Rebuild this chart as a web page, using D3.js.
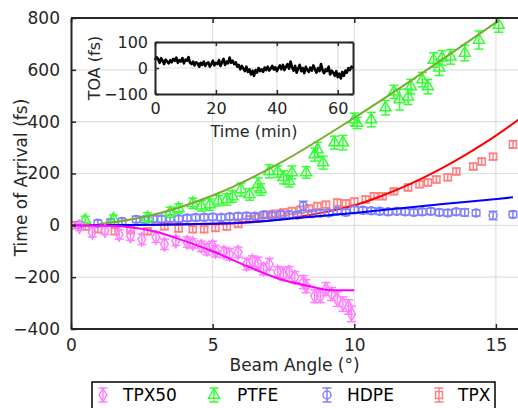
<!DOCTYPE html>
<html lang="en">
<head>
<meta charset="UTF-8">
<title>Time of Arrival vs Beam Angle</title>
<script src="https://d3js.org/d3.v7.min.js"></script>
<style>
    body { margin: 0; padding: 0; background: #fff; overflow: hidden; }
    svg { font-family: "DejaVu Sans", Verdana, sans-serif; }
</style>
</head>
<body>
<div id="chart"></div>
<script>
    // measured points: [beam angle (deg), time of arrival (fs), error (fs)]
    const tpx50 = [
        [0.3, -5, 15], [0.75, -27, 18], [1.2, -20, 15], [1.7, -35, 18], [2.1, -40, 18],
        [2.5, -54, 20], [3.0, -46, 20], [3.3, -73, 20], [3.7, -60, 18], [4.1, -65, 20],
        [4.3, -70, 18], [4.6, -81, 20], [4.8, -92, 22], [5.0, -81, 20], [5.1, -100, 22],
        [5.4, -104, 20], [5.6, -112, 22], [5.9, -104, 20], [6.2, -150, 22], [6.4, -138, 20],
        [6.6, -145, 22], [6.8, -169, 22], [7.0, -150, 22], [7.3, -181, 22], [7.5, -188, 25],
        [7.7, -181, 22], [7.9, -200, 22], [8.2, -219, 25], [8.3, -235, 25], [8.6, -273, 25],
        [8.8, -273, 25], [9.0, -246, 25], [9.2, -265, 25], [9.4, -285, 28], [9.6, -304, 28],
        [9.8, -315, 28], [9.9, -342, 30]
    ];
    const ptfe = [
        [0.5, 20, 15], [1.5, 25, 15], [2.7, 30, 18], [3.5, 50, 20], [3.8, 65, 18],
        [4.3, 85, 20], [4.6, 75, 20], [4.9, 80, 22], [5.2, 95, 20], [5.5, 100, 22],
        [5.7, 111, 22], [6.0, 138, 25], [6.3, 119, 22], [6.6, 158, 25], [6.7, 138, 22],
        [7.0, 208, 25], [7.3, 208, 22], [7.5, 185, 25], [7.7, 170, 22], [7.8, 204, 25],
        [8.3, 204, 22], [8.6, 273, 25], [8.7, 292, 28], [8.9, 242, 25], [9.3, 319, 25],
        [9.6, 319, 28], [10.0, 408, 25], [10.1, 395, 22], [10.6, 408, 28], [11.1, 454, 28],
        [11.4, 515, 25], [11.6, 485, 40], [11.9, 496, 30], [12.0, 535, 28], [12.4, 562, 28],
        [12.6, 535, 28], [12.8, 638, 28], [13.0, 608, 30], [13.1, 646, 28], [13.4, 650, 28],
        [13.9, 665, 30], [14.4, 715, 35], [15.1, 773, 28]
    ];
    const hdpe = [
        [0.3, 2, 12], [0.95, 8, 12], [1.4, 12, 12], [1.8, 15, 12], [2.3, 23, 12],
        [2.6, 22, 12], [2.9, 25, 12], [3.2, 24, 12], [3.5, 26, 12], [3.8, 25, 12],
        [4.1, 28, 12], [4.4, 30, 12], [4.7, 31, 12], [5.0, 32, 12], [5.3, 30, 12],
        [5.6, 33, 12], [5.9, 35, 12], [6.2, 36, 12], [6.5, 35, 12], [6.8, 40, 12],
        [7.1, 38, 12], [7.4, 42, 12], [7.7, 41, 12], [8.0, 40, 12], [8.2, 75, 18],
        [8.5, 45, 12], [8.8, 47, 12], [9.1, 48, 12], [9.4, 55, 12], [9.7, 50, 12],
        [10.0, 60, 12], [10.3, 58, 12], [10.6, 56, 12], [10.9, 54, 12], [11.2, 52, 12],
        [11.5, 54, 12], [11.8, 52, 12], [12.1, 50, 12], [12.4, 52, 12], [12.7, 54, 12],
        [13.0, 50, 12], [13.3, 48, 12], [13.6, 52, 12], [13.9, 50, 14], [14.3, 48, 12],
        [14.9, 38, 16], [15.6, 42, 12]
    ];
    const tpx = [
        [0.0, 0, 12], [0.5, -5, 12], [0.95, -15, 12], [1.55, -23, 12], [2.1, -18, 12],
        [2.7, -23, 12], [3.3, -4, 12], [3.8, -12, 12], [4.3, -15, 12], [4.7, -15, 12],
        [5.1, -10, 12], [5.5, -5, 12], [5.9, 5, 12], [6.3, 23, 12], [6.6, 30, 12],
        [6.9, 42, 12], [7.2, 45, 12], [7.5, 50, 12], [7.8, 55, 12], [8.1, 60, 12],
        [8.4, 65, 12], [8.7, 75, 12], [9.0, 80, 12], [9.4, 88, 12], [9.7, 85, 12],
        [10.0, 92, 12], [10.4, 100, 12], [10.7, 112, 12], [11.0, 112, 12], [11.4, 131, 12],
        [11.9, 146, 12], [12.3, 158, 12], [12.6, 165, 12], [12.9, 177, 12], [13.3, 185, 12],
        [13.6, 208, 12], [14.2, 227, 12], [14.5, 246, 12], [14.9, 265, 12], [15.6, 312, 15]
    ];

    // fitted curves: [angle, fs]
    const tpx50Fit = [[0, 0], [1, -1], [2, -6], [3, -25], [3.85, -54], [5, -100], [6.2, -157],
        [7.4, -208], [8.55, -238], [9.15, -250], [10, -250]];
    const ptfeFit = [[1.0, 5], [2.5, 30], [5, 115], [7.5, 248], [10, 415], [12.5, 595], [15.1, 790]];
    const hdpeFit = [[0, 0], [2, 1], [4, 4], [6, 10], [8, 28], [10, 48], [12, 70], [14, 91], [15.6, 108]];
    const tpxFit = [[0, 0], [2, 1], [4, 4], [6, 10], [8, 32], [9, 52], [10, 77], [11, 115], [12, 161],
        [13, 215], [14, 277], [15, 346], [15.9, 416]];

    // inset: TOA drift over time, every 0.5 min
    const toaStep = 0.5;
    const toa = [
        30, 42, 35, 20, 38, 28, 15, 32, 25, 18, 30,
        22, 35, 28, 40, 20, 30, 25, 38, 18, 32,
        28, 42, 20, 15, 25, 10, 22, 18, 5, 20,
        12, 25, 8, 18, 22, 5, 15, 28, 10, 20,
        15, 30, 8, 22, 35, 12, 25, 18, 40, 20,
        28, 15, 22, 5, 12, -5, 8, -2, -12, 5,
        -15, -5, -25, -10, -30, -8, -18, 0, -12, -5,
        -15, 2, -8, 5, -10, -2, 8, -6, 3, -12,
        0, 10, -5, 12, -8, 5, 15, -3, 25, 2,
        -10, 8, -18, -2, 12, -12, 0, -20, 5, -8,
        -15, 2, -10, 10, -5, -18, 0, -12, 15, -8,
        -20, -5, -12, 5, -25, -10, -18, -30, -12, -35,
        -22, -40, -15, -30, -10, -18, 0, -8, 5, 0
    ];

    const xTicks = [0, 5, 10, 15];
    const yTicks = [-400, -200, 0, 200, 400, 600, 800];
    const insetXTicks = [0, 20, 40, 60];
    const insetYTicks = [-100, 0, 100];

    const seriesList = [
        { name: "TPX", data: tpx, fit: tpxFit, color: "#ff8080", fitColor: "#ff0000", symbol: d3.symbolSquare, size: 48 },
        { name: "HDPE", data: hdpe, fit: hdpeFit, color: "#8080ff", fitColor: "#0000ff", symbol: d3.symbolCircle, size: 50 },
        { name: "PTFE", data: ptfe, fit: ptfeFit, color: "#33ff33", fitColor: "#77ac30", symbol: d3.symbolTriangle, size: 52 },
        { name: "TPX50", data: tpx50, fit: tpx50Fit, color: "#ff80ff", fitColor: "#ff00ff", symbol: d3.symbolDiamond, size: 52 }
    ];
    const legendOrder = ["TPX50", "PTFE", "HDPE", "TPX"];

    const W = 518, H = 408;
    const axisColor = "#262626";
    const gridColor = "#dfdfdf";

    const svg = d3.select("#chart").append("svg")
        .attr("width", W)
        .attr("height", H);

    const x = d3.scaleLinear().domain([0, 15.85]).range([71, 520]);
    const y = d3.scaleLinear().domain([-400, 800]).range([329, 18]);

    // grid
    svg.append("g").selectAll("line")
        .data(xTicks.filter(t => t > 0))
        .join("line")
        .attr("x1", d => x(d)).attr("x2", d => x(d))
        .attr("y1", y(-400)).attr("y2", y(800))
        .attr("stroke", gridColor).attr("stroke-width", 1.2);
    svg.append("g").selectAll("line")
        .data(yTicks)
        .join("line")
        .attr("x1", x(0)).attr("x2", W)
        .attr("y1", d => y(d)).attr("y2", d => y(d))
        .attr("stroke", gridColor).attr("stroke-width", 1.2);

    svg.append("clipPath").attr("id", "plotClip")
        .append("rect")
        .attr("x", x(0)).attr("y", y(800))
        .attr("width", W - x(0)).attr("height", y(-400) - y(800));

    const plot = svg.append("g").attr("clip-path", "url(#plotClip)");

    const fitLine = d3.line()
        .x(d => x(d[0]))
        .y(d => y(d[1]))
        .curve(d3.curveMonotoneX);

    function drawMarker(g, s, cx, cy, lo, hi) {
        g.append("line")
            .attr("x1", cx).attr("x2", cx)
            .attr("y1", lo).attr("y2", hi)
            .attr("stroke", s.color).attr("stroke-width", 1.5);
        [lo, hi].forEach(v => {
            g.append("line")
                .attr("x1", cx - 4.5).attr("x2", cx + 4.5)
                .attr("y1", v).attr("y2", v)
                .attr("stroke", s.color).attr("stroke-width", 1.5);
        });
        g.append("path")
            .attr("d", d3.symbol().type(s.symbol).size(s.size)())
            .attr("transform", `translate(${cx},${cy})`)
            .attr("fill", "none")
            .attr("stroke", s.color)
            .attr("stroke-width", 1.5);
    }

    seriesList.forEach(s => {
        const g = plot.append("g");
        s.data.forEach(d => {
            drawMarker(g, s, x(d[0]), y(d[1]), y(d[1] - d[2]), y(d[1] + d[2]));
        });
        plot.append("path")
            .datum(s.fit)
            .attr("d", fitLine)
            .attr("fill", "none")
            .attr("stroke", s.fitColor)
            .attr("stroke-width", 2);
    });

    // axes (ticks inside, MATLAB style)
    const xAxis = svg.append("g")
        .attr("transform", `translate(0,${y(-400)})`)
        .call(d3.axisBottom(x).tickValues(xTicks).tickSizeInner(-5).tickSizeOuter(0).tickPadding(10));
    const xAxisTop = svg.append("g")
        .attr("transform", `translate(0,${y(800)})`)
        .call(d3.axisTop(x).tickValues(xTicks).tickSizeInner(-5).tickSizeOuter(0).tickFormat(""));
    const yAxis = svg.append("g")
        .attr("transform", `translate(${x(0)},0)`)
        .call(d3.axisLeft(y).tickValues(yTicks).tickSizeInner(-5).tickSizeOuter(0).tickPadding(11));

    [xAxis, xAxisTop, yAxis].forEach(a => {
        a.select(".domain").attr("stroke", axisColor).attr("stroke-width", 2);
        a.selectAll(".tick line").attr("stroke", axisColor).attr("stroke-width", 1.5);
        a.selectAll(".tick text")
            .attr("fill", axisColor)
            .style("font-size", "17px")
            .style("font-family", "DejaVu Sans, sans-serif");
    });
    // stretch axis lines to the window edge
    xAxis.select(".domain").attr("d", `M${x(0)},0H${W}`);
    xAxisTop.select(".domain").attr("d", `M${x(0)},0H${W}`);

    svg.append("text")
        .attr("x", (x(0) + W) / 2)
        .attr("y", 371)
        .attr("text-anchor", "middle")
        .attr("fill", axisColor)
        .style("font-size", "17px")
        .text("Beam Angle (°)");

    svg.append("text")
        .attr("transform", `translate(27,${(y(800) + y(-400)) / 2 + 4}) rotate(-90)`)
        .attr("text-anchor", "middle")
        .attr("fill", axisColor)
        .style("font-size", "17px")
        .text("Time of Arrival (fs)");

    // inset
    const ix = d3.scaleLinear().domain([0, 65]).range([155, 353]);
    const iy = d3.scaleLinear().domain([-100, 100]).range([94, 42]);
    const inset = svg.append("g");

    inset.append("rect")
        .attr("x", ix(0)).attr("y", iy(100))
        .attr("width", ix(65) - ix(0)).attr("height", iy(-100) - iy(100))
        .attr("fill", "#fff");
    inset.append("g").selectAll("line")
        .data(insetXTicks.filter(t => t > 0))
        .join("line")
        .attr("x1", d => ix(d)).attr("x2", d => ix(d))
        .attr("y1", iy(-100)).attr("y2", iy(100))
        .attr("stroke", gridColor).attr("stroke-width", 1.2);
    inset.append("line")
        .attr("x1", ix(0)).attr("x2", ix(65))
        .attr("y1", iy(0)).attr("y2", iy(0))
        .attr("stroke", gridColor).attr("stroke-width", 1.2);

    inset.append("path")
        .datum(toa)
        .attr("d", d3.line().x((d, i) => ix(i * toaStep)).y(d => iy(d)))
        .attr("fill", "none")
        .attr("stroke", "#000")
        .attr("stroke-width", 2.6)
        .attr("stroke-linejoin", "round");

    const ixAxis = inset.append("g")
        .attr("transform", `translate(0,${iy(-100)})`)
        .call(d3.axisBottom(ix).tickValues(insetXTicks).tickSizeInner(-4).tickSizeOuter(0).tickPadding(9));
    const ixAxisTop = inset.append("g")
        .attr("transform", `translate(0,${iy(100)})`)
        .call(d3.axisTop(ix).tickValues(insetXTicks).tickSizeInner(-4).tickSizeOuter(0).tickFormat(""));
    const iyAxis = inset.append("g")
        .attr("transform", `translate(${ix(0)},0)`)
        .call(d3.axisLeft(iy).tickValues(insetYTicks).tickSizeInner(-4).tickSizeOuter(0).tickPadding(7));
    const iyAxisRight = inset.append("g")
        .attr("transform", `translate(${ix(65)},0)`)
        .call(d3.axisRight(iy).tickValues(insetYTicks).tickSizeInner(-4).tickSizeOuter(0).tickFormat(""));

    [ixAxis, ixAxisTop, iyAxis, iyAxisRight].forEach(a => {
        a.select(".domain").attr("stroke", axisColor).attr("stroke-width", 2);
        a.selectAll(".tick line").attr("stroke", axisColor).attr("stroke-width", 1.5);
        a.selectAll(".tick text")
            .attr("fill", axisColor)
            .style("font-size", "16px")
            .style("font-family", "DejaVu Sans, sans-serif");
    });

    inset.append("text")
        .attr("x", (ix(0) + ix(65)) / 2)
        .attr("y", 137)
        .attr("text-anchor", "middle")
        .attr("fill", axisColor)
        .style("font-size", "16px")
        .text("Time (min)");

    inset.append("text")
        .attr("transform", `translate(100,${(iy(100) + iy(-100)) / 2}) rotate(-90)`)
        .attr("text-anchor", "middle")
        .attr("fill", axisColor)
        .style("font-size", "16px")
        .text("TOA (fs)");

    // legend
    const legendPos = { TPX50: [103, 123], PTFE: [214, 237], HDPE: [327, 347], TPX: [439, 458] };
    const legend = svg.append("g");
    legend.append("rect")
        .attr("x", 92).attr("y", 382)
        .attr("width", 403).attr("height", 32)
        .attr("fill", "#fff")
        .attr("stroke", "#000")
        .attr("stroke-width", 1.5);
    legendOrder.forEach(name => {
        const s = seriesList.find(d => d.name === name);
        const [mx, tx] = legendPos[name];
        drawMarker(legend, s, mx, 395, 388, 402);
        legend.append("text")
            .attr("x", tx)
            .attr("y", 395)
            .attr("dy", "0.35em")
            .attr("fill", "#000")
            .style("font-size", "17px")
            .text(name);
    });
</script>
</body>
</html>
